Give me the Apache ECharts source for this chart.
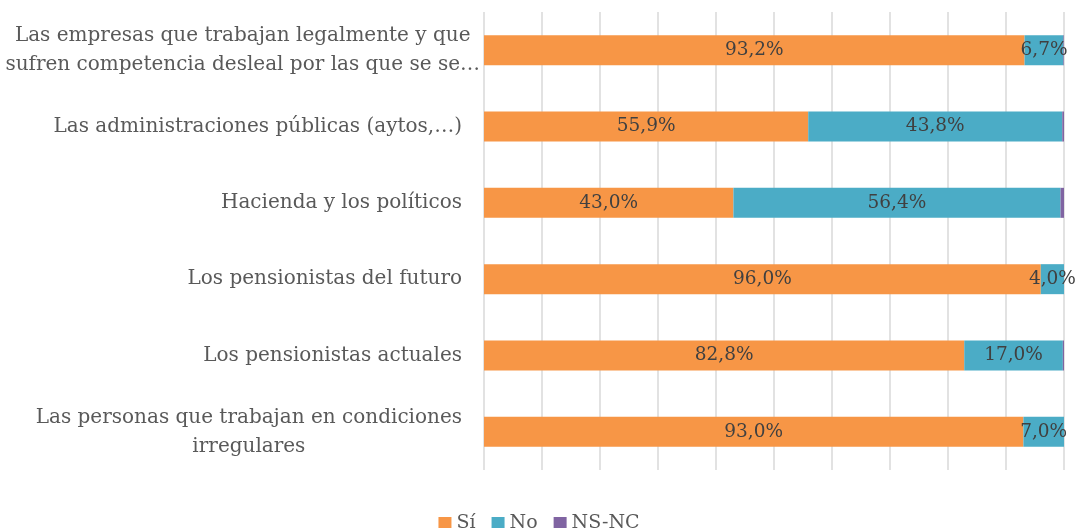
<!DOCTYPE html>
<html>
<head>
<meta charset="utf-8">
<script src="https://cdn.jsdelivr.net/npm/echarts@6/dist/echarts.min.js"></script>
<style>
  html, body { margin: 0; padding: 0; background: #fff; }
  #chart { width: 1078px; height: 528px; }
</style>
</head>
<body>
<div id="chart"></div>
<script>
var categories = [
  'Las empresas que trabajan legalmente y que\nsufren competencia desleal por las que se se…',
  'Las administraciones públicas (aytos,…)',
  'Hacienda y los políticos',
  'Los pensionistas del futuro',
  'Los pensionistas actuales',
  'Las personas que trabajan en condiciones\nirregulares'
]
var si = [93.2, 55.9, 43.0, 96.0, 82.8, 93.0]
var no = [6.7, 43.8, 56.4, 4.0, 17.0, 7.0]
var nsnc = [0.1, 0.3, 0.6, 0.0, 0.2, 0.0]

var font = 'DejaVu Serif'
var chart = echarts.init(document.getElementById('chart'))

function makeSeries (name, data, color, showLabel) {
  return {
    name: name,
    type: 'bar',
    stack: 'total',
    barWidth: 30,
    data: data,
    itemStyle: { color: color },
    label: {
      show: showLabel,
      position: 'inside',
      color: '#404040',
      fontFamily: font,
      fontSize: 18.5,
      formatter: function (p) {
        return p.value.toFixed(1).replace('.', ',') + '%'
      }
    }
  }
}

var option = {
  animation: false,
  backgroundColor: '#fff',
  grid: { left: 484, right: 14, top: 12, bottom: 58, containLabel: false, outerBoundsMode: 'none' },
  legend: {
    bottom: -10,
    left: 'center',
    itemWidth: 13,
    itemHeight: 13,
    itemGap: 16,
    icon: 'rect',
    textStyle: { color: '#595959', fontFamily: font, fontSize: 19 },
    data: ['Sí', 'No', 'NS-NC']
  },
  xAxis: {
    type: 'value',
    min: 0,
    max: 100,
    interval: 10,
    axisLabel: { show: false },
    axisLine: { show: false },
    axisTick: { show: false },
    splitLine: { lineStyle: { color: '#d9d9d9', width: 1.5 } }
  },
  yAxis: {
    type: 'category',
    inverse: true,
    data: categories,
    axisLine: { show: false },
    axisTick: { show: false },
    axisLabel: {
      margin: 22,
      color: '#595959',
      fontFamily: font,
      fontSize: 20,
      lineHeight: 29,
      formatter: function (v, i) {
        if (v.indexOf('\n') >= 0) {
          // the first label is wider than the room left of the bars
          var tag = i === 0 ? 'w' : 'c'
          return v.split('\n').map(function (s) { return '{' + tag + '|' + s + '}' }).join('\n')
        }
        return v
      },
      rich: {
        c: { align: 'center', color: '#595959', fontFamily: font, fontSize: 20, lineHeight: 29 },
        w: { align: 'center', color: '#595959', fontFamily: font, fontSize: 20, lineHeight: 29, padding: [0, -18, 0, 0] }
      }
    }
  },
  series: [
    makeSeries('Sí', si, '#F79646', true),
    makeSeries('No', no, '#4BACC6', true),
    makeSeries('NS-NC', nsnc, '#8064A2', false)
  ]
}

option && chart.setOption(option)
</script>
</body>
</html>
